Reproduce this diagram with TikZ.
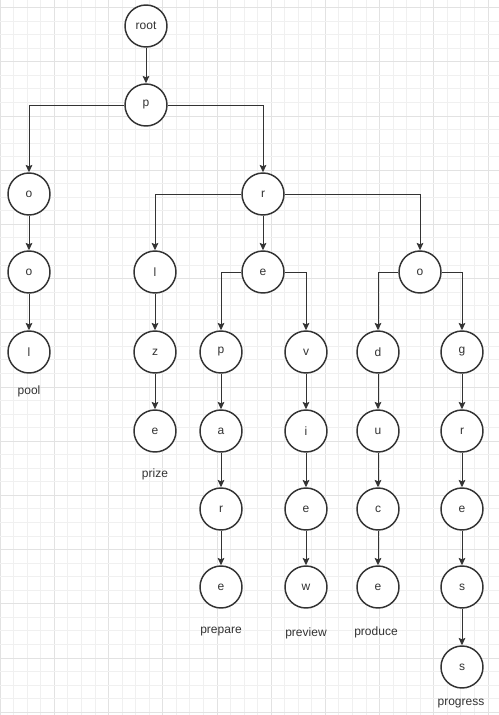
\documentclass[tikz,border=0pt]{standalone}
\usepackage{fontspec}
\setmainfont{Liberation Sans}
\usepackage{tikz}
\usetikzlibrary{arrows.meta}
\definecolor{inkgrey}{HTML}{333333}
\definecolor{gridminor}{HTML}{F0F0F0}
\definecolor{gridmajor}{HTML}{E2E2E2}
\tikzset{
  letter/.style={circle, draw=inkgrey, line width=1.1pt, fill=white,
                 minimum size=31.5pt, inner sep=0pt, font=\fontsize{9}{10}\selectfont,
                 text=inkgrey},
  word/.style={font=\fontsize{9}{10}\selectfont, text=inkgrey, inner sep=1pt},
  edge/.style={-{Stealth[length=5.5pt,width=5pt,inset=1pt]}, line width=0.75pt,
               draw=inkgrey},
}

\begin{document}
\begin{tikzpicture}[x=0.75pt, y=-0.75pt]
\useasboundingbox (0,0) rectangle (499,715);

% ---------------- grid ---------------------------------------------------
\fill[white] (0,0) rectangle (499,715);
\foreach \k in {0,...,36}{
  \pgfmathsetmacro{\xx}{0.2 + \k*13.55}
  \pgfmathtruncatemacro{\mj}{mod(\k,4)}
  \ifnum\mj=0
    \draw[gridmajor, line width=0.75pt] (\xx,0) -- (\xx,715);
  \else
    \draw[gridminor, line width=0.75pt] (\xx,0) -- (\xx,715);
  \fi
}
\foreach \k in {0,...,52}{
  \pgfmathsetmacro{\yy}{7.6 + \k*13.55}
  \pgfmathtruncatemacro{\mj}{mod(\k,4)}
  \ifnum\mj=0
    \draw[gridmajor, line width=0.75pt] (0,\yy) -- (499,\yy);
  \else
    \draw[gridminor, line width=0.75pt] (0,\yy) -- (499,\yy);
  \fi
}

% ---------------- top ----------------------------------------------------
\node[letter] at (146,26) (root) {root};
\node[letter] at (146,105) (p) {p};
\draw[edge] (root) -- (p);

% ---------------- pool ---------------------------------------------------
\node[letter] at (29,194) (po) {o};
\node[letter] at (29,272) (poo) {o};
\node[letter] at (29,352) (pool) {l};
\node[word] at (29,391) (wpool) {pool};
\draw[edge] (p.west) -| (po);
\draw[edge] (po) -- (poo);
\draw[edge] (poo) -- (pool);

% ---------------- r ------------------------------------------------------
\node[letter] at (263,194) (pr) {r};
\draw[edge] (p.east) -| (pr);

% prize
\node[letter] at (155,272) (pri) {l};
\node[letter] at (155,352) (priz) {z};
\node[letter] at (155,431) (prize) {e};
\node[word] at (155,474) (wprize) {prize};
\draw[edge] (pr.west) -| (pri);
\draw[edge] (pri) -- (priz);
\draw[edge] (priz) -- (prize);

% prepare / preview
\node[letter] at (263,272) (pre) {e};
\draw[edge] (pr) -- (pre);

\node[letter] at (221,352) (prep) {p};
\node[letter] at (221,431) (prepa) {a};
\node[letter] at (221,509) (prepar) {r};
\node[letter] at (221,587) (prepare) {e};
\node[word] at (221,632) (wprepare) {prepare};
\draw[edge] (pre.west) -| (prep);
\draw[edge] (prep) -- (prepa);
\draw[edge] (prepa) -- (prepar);
\draw[edge] (prepar) -- (prepare);

\node[letter] at (306,352) (prev) {v};
\node[letter] at (306,431) (previ) {i};
\node[letter] at (306,509) (previe) {e};
\node[letter] at (306,587) (preview) {w};
\node[word] at (306,633) (wpreview) {preview};
\draw[edge] (pre.east) -| (prev);
\draw[edge] (prev) -- (previ);
\draw[edge] (previ) -- (previe);
\draw[edge] (previe) -- (preview);

% produce / progress
\node[letter] at (420,272) (pro) {o};
\draw[edge] (pr.east) -| (pro);

\node[letter] at (378,352) (prod) {d};
\node[letter] at (378,431) (produ) {u};
\node[letter] at (378,509) (produc) {c};
\node[letter] at (378,587) (produce) {e};
\node[word] at (376,632) (wproduce) {produce};
\draw[edge] (pro.west) -| (prod);
\draw[edge] (prod) -- (produ);
\draw[edge] (produ) -- (produc);
\draw[edge] (produc) -- (produce);

\node[letter] at (462,352) (prog) {g};
\node[letter] at (462,431) (progr) {r};
\node[letter] at (462,509) (progre) {e};
\node[letter] at (462,587) (progres) {s};
\node[letter] at (462,667) (progress) {s};
\node[word] at (461,704) (wprogress) {progress};
\draw[edge] (pro.east) -| (prog);
\draw[edge] (prog) -- (progr);
\draw[edge] (progr) -- (progre);
\draw[edge] (progre) -- (progres);
\draw[edge] (progres) -- (progress);
\end{tikzpicture}
\end{document}
